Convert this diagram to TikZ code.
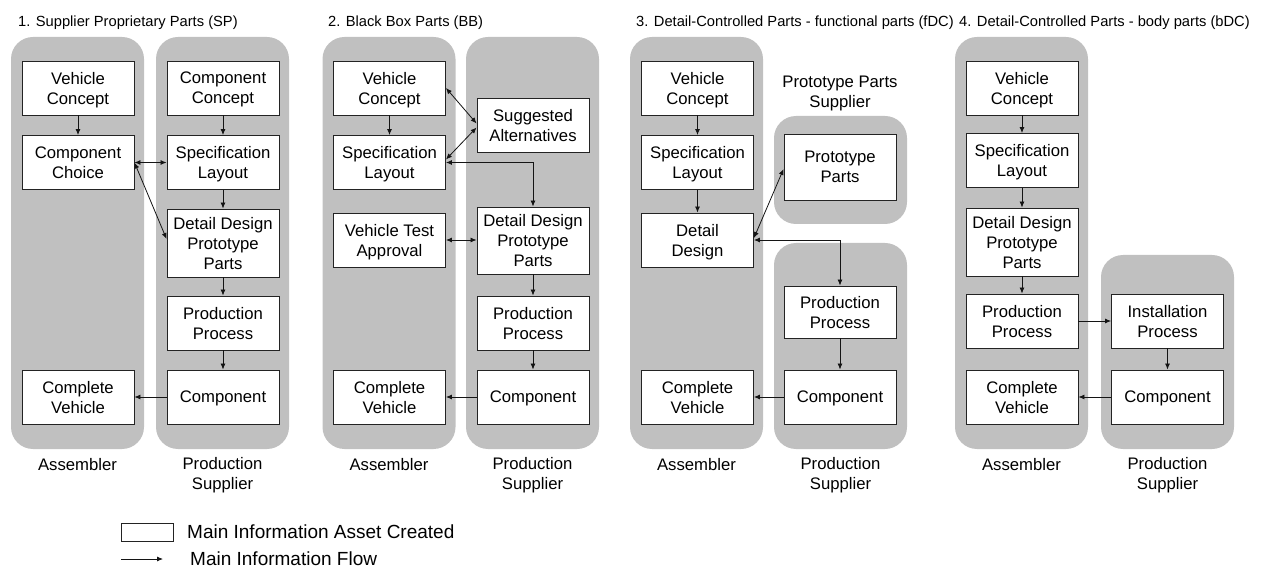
\documentclass[tikz,border=0pt]{standalone}
\usepackage{fontspec}
\setmainfont{Liberation Sans}
\usetikzlibrary{
  arrows.meta,
  positioning
}
\definecolor{lanecolor}{RGB}{192, 192, 192}
\definecolor{boxborder}{RGB}{35, 35, 35}
\definecolor{flowcolor}{RGB}{20, 20, 20}
\definecolor{labelcolor}{RGB}{0, 0, 0}
\tikzset{
boxtext/.style={
  align=center,
  font=\fontsize{16.7}{20}\selectfont,
  text=labelcolor,
  text depth=0pt
},
lane/.style={
  fill=lanecolor,
  rounded corners=22pt,
  minimum width=133pt,
  inner sep=0pt
},
infobox/.style={
  draw=boxborder,
  fill=white,
  line width=0.9pt,
  minimum height=54pt,
  minimum width=112pt,
  inner sep=2pt,
  boxtext
},
tallbox/.style={
  infobox,
  minimum height=68pt
},
lanelabel/.style={
  boxtext
},
paneltitle/.style={
  font=\fontsize{14.7}{18}\selectfont,
  text=labelcolor,
  inner sep=0pt
},
legendtext/.style={
  font=\fontsize{19}{22}\selectfont,
  text=labelcolor,
  inner sep=0pt
},
legbox/.style={
  draw=boxborder,
  line width=0.9pt,
  minimum width=52pt,
  minimum height=18pt,
  inner sep=0pt
},
flow/.style={
  -{Latex[length=6pt,width=5pt]},
  line width=0.8pt,
  draw=flowcolor
},
dflow/.style={
  {Latex[length=6pt,width=5pt]}-{Latex[length=6pt,width=5pt]},
  line width=0.8pt,
  draw=flowcolor
}
}
\begin{document}
\begin{tikzpicture}[x=1pt,y=-1pt]
\useasboundingbox (0,0) rectangle (1269,569);

% lanes
\node[lane, minimum height=412pt] (asmlane1) at (77.5,243) {};
\node[lane, minimum height=412pt] (suplane1) at (222.5,243) {};
\node[lane, minimum height=412pt] (asmlane2) at (389,243) {};
\node[lane, minimum height=412pt] (suplane2) at (532.5,243) {};
\node[lane, minimum height=412pt] (asmlane3) at (696.5,243) {};
\node[lane, minimum height=108pt] (protlane3) at (840.5,170) {};
\node[lane, minimum height=206pt] (suplane3) at (840.5,346) {};
\node[lane, minimum height=412pt] (asmlane4) at (1021.5,243) {};
\node[lane, minimum height=194pt] (suplane4) at (1167.5,352) {};

% titles
\node[paneltitle, anchor=base west] (title1) at (18,27) {1. Supplier Proprietary Parts (SP)};
\node[paneltitle, anchor=base west] (title2) at (328,27) {2. Black Box Parts (BB)};
\node[paneltitle, anchor=base west] (title3) at (636,27) {3. Detail-Controlled Parts - functional parts (fDC)};
\node[paneltitle, anchor=base west] (title4) at (959,27) {4. Detail-Controlled Parts - body parts (bDC)};

% 1. SP
\node[infobox] (vc1) at (78,88) {Vehicle\\Concept};
\node[infobox] (cc1) at (78,162.5) {Component\\Choice};
\node[infobox] (cv1) at (78,397) {Complete\\Vehicle};
\node[infobox] (cpc1) at (223,88) {Component\\Concept};
\node[infobox] (sl1) at (223,162.5) {Specification\\Layout};
\node[tallbox] (dd1) at (223,243) {Detail Design\\Prototype\\Parts};
\node[infobox] (pp1) at (223,323) {Production\\Process};
\node[infobox] (co1) at (223,397) {Component};
\draw[flow] (vc1) -- (cc1);
\draw[flow] (cpc1) -- (sl1);
\draw[flow] (sl1) -- (dd1);
\draw[flow] (dd1) -- (pp1);
\draw[flow] (pp1) -- (co1);
\draw[flow] (co1) -- (cv1);
\draw[dflow] (cc1) -- (sl1);
\draw[dflow] (cc1.east) -- ([yshift=4pt]dd1.west);

% 2. BB
\node[infobox] (vc2) at (389.5,88) {Vehicle\\Concept};
\node[infobox] (sl2) at (389.5,162.5) {Specification\\Layout};
\node[infobox] (vta2) at (389.5,240) {Vehicle Test\\Approval};
\node[infobox] (cv2) at (389.5,397) {Complete\\Vehicle};
\node[infobox] (sa2) at (533,125.5) {Suggested\\Alternatives};
\node[tallbox, minimum height=67pt] (dd2) at (533,240.5) {Detail Design\\Prototype\\Parts};
\node[infobox] (pp2) at (533,323) {Production\\Process};
\node[infobox] (co2) at (533,397) {Component};
\draw[flow] (vc2) -- (sl2);
\draw[flow] (dd2) -- (pp2);
\draw[flow] (pp2) -- (co2);
\draw[flow] (co2) -- (cv2);
\draw[dflow] (vc2.east) -- ([yshift=2pt]sa2.west);
\draw[dflow] ([yshift=3pt]sl2.east) -- ([yshift=-2pt]sa2.west);
\draw[dflow] (sl2.east) -| (dd2.north);
\draw[dflow] (vta2.east) -- (vta2.east -| dd2.west);

% 3. fDC
\node[infobox] (vc3) at (697.5,88) {Vehicle\\Concept};
\node[infobox] (sl3) at (697.5,162.5) {Specification\\Layout};
\node[infobox] (ddes3) at (697.5,240) {Detail\\Design};
\node[infobox] (cv3) at (697.5,397) {Complete\\Vehicle};
\node[lanelabel] (protlabel3) at (840,92) {Prototype Parts\\Supplier};
\node[infobox, minimum height=66pt] (pt3) at (840,167) {Prototype\\Parts};
\node[infobox, minimum height=52pt] (pp3) at (840,312) {Production\\Process};
\node[infobox] (co3) at (840,397) {Component};
\draw[flow] (vc3) -- (sl3);
\draw[flow] (sl3) -- (ddes3);
\draw[flow] (pp3) -- (co3);
\draw[flow] (co3) -- (cv3);
\draw[dflow] ([yshift=2pt]ddes3.east) -- ([yshift=-2pt]pt3.west);
\draw[dflow] (ddes3.east) -| (pp3.north);

% 4. bDC
\node[infobox] (vc4) at (1022,88) {Vehicle\\Concept};
\node[infobox] (sl4) at (1022,160.5) {Specification\\Layout};
\node[tallbox] (dd4) at (1022,242) {Detail Design\\Prototype\\Parts};
\node[infobox] (pp4) at (1022,321) {Production\\Process};
\node[infobox] (cv4) at (1022,397) {Complete\\Vehicle};
\node[infobox] (ip4) at (1167.5,321) {Installation\\Process};
\node[infobox] (co4) at (1167.5,397) {Component};
\draw[flow] (vc4) -- (sl4);
\draw[flow] (sl4) -- (dd4);
\draw[flow] (dd4) -- (pp4);
\draw[flow] (pp4) -- (ip4);
\draw[flow] (ip4) -- (co4);
\draw[flow] (co4) -- (cv4);

% lane labels
\node[lanelabel] (asmlabel1) at (77.5,464) {Assembler};
\node[lanelabel] (suplabel1) at (222.5,473) {Production\\Supplier};
\node[lanelabel] (asmlabel2) at (389,464) {Assembler};
\node[lanelabel] (suplabel2) at (532.5,473) {Production\\Supplier};
\node[lanelabel] (asmlabel3) at (696.5,464) {Assembler};
\node[lanelabel] (suplabel3) at (840.5,473) {Production\\Supplier};
\node[lanelabel] (asmlabel4) at (1021.5,464) {Assembler};
\node[lanelabel] (suplabel4) at (1167.5,473) {Production\\Supplier};

% legend
\node[legbox] (legasset) at (147,532) {};
\node[legendtext, anchor=west] (legassettext) at (187,532) {Main Information Asset Created};
\coordinate (legflowa) at (121,559);
\coordinate (legflowb) at (163,559);
\draw[flow] (legflowa) -- (legflowb);
\node[legendtext, anchor=west] (legflowtext) at (190,559) {Main Information Flow};
\end{tikzpicture}
\end{document}
